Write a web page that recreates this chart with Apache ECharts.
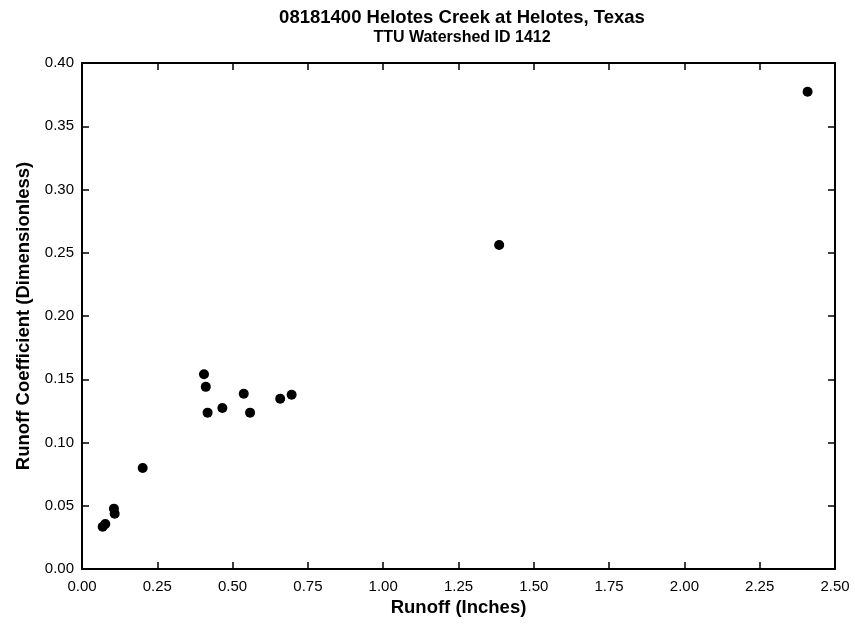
<!DOCTYPE html>
<html><head><meta charset="utf-8">
<script src="https://cdn.jsdelivr.net/npm/echarts@6/dist/echarts.min.js"></script>
<style>html,body{margin:0;padding:0;background:#fff}#c{width:855px;height:626px}</style>
</head><body><div id="c"></div>
<script>
const runoff = [2.409, 1.385, 0.405, 0.411, 0.417, 0.466, 0.537, 0.558, 0.658, 0.696, 0.2015, 0.106, 0.1085, 0.0686, 0.0774];
const coeff  = [0.3773, 0.2561, 0.154, 0.144, 0.1236, 0.1273, 0.1386, 0.1236, 0.1346, 0.1378, 0.0798, 0.0477, 0.0437, 0.0334, 0.0356];
const titleText = '08181400 Helotes Creek at Helotes, Texas';
const subText = 'TTU Watershed ID 1412';
const xName = 'Runoff (Inches)';
const yName = 'Runoff Coefficient (Dimensionless)';

const ff = '"Liberation Sans", Arial, Helvetica, sans-serif';
const chart = echarts.init(document.getElementById('c'));
const lineS = () => ({show: true, onZero: false, lineStyle: {color: '#000', width: 2}});
const tickS = () => ({show: true, inside: true, length: 7, lineStyle: {color: '#000', width: 1.5}});
chart.setOption({
  animation: false,
  title: {text: titleText, subtext: subText, left: 457, textAlign: 'center', top: 3, itemGap: 3,
    textStyle: {fontFamily: ff, fontWeight: 'bold', fontSize: 18.5, color: '#000'},
    subtextStyle: {fontFamily: ff, fontWeight: 'bold', fontSize: 16, color: '#000'}},
  grid: {left: 82, right: 20, top: 63, bottom: 57},
  xAxis: [
    {type: 'value', min: 0, max: 2.5, interval: 0.25, position: 'bottom',
     name: xName, nameLocation: 'middle', nameGap: 29,
     nameTextStyle: {fontFamily: ff, fontWeight: 'bold', fontSize: 18.5, color: '#000'},
     axisLine: lineS(), axisTick: tickS(), splitLine: {show: false},
     axisLabel: {fontFamily: ff, fontSize: 15, color: '#000', margin: 10, formatter: v => v.toFixed(2)}},
    {type: 'value', min: 0, max: 2.5, interval: 0.25, position: 'top',
     axisLine: lineS(), axisTick: tickS(), splitLine: {show: false}, axisLabel: {show: false}}
  ],
  yAxis: [
    {type: 'value', min: 0, max: 0.4, interval: 0.05, position: 'left',
     name: yName, nameLocation: 'middle', nameGap: 43,
     nameTextStyle: {fontFamily: ff, fontWeight: 'bold', fontSize: 18.5, color: '#000'},
     axisLine: lineS(), axisTick: tickS(), splitLine: {show: false},
     axisLabel: {fontFamily: ff, fontSize: 15, color: '#000', margin: 8, formatter: v => v.toFixed(2)}},
    {type: 'value', min: 0, max: 0.4, interval: 0.05, position: 'right',
     axisLine: lineS(), axisTick: tickS(), splitLine: {show: false}, axisLabel: {show: false}}
  ],
  series: [{type: 'scatter', symbol: 'circle', symbolSize: 10,
    itemStyle: {color: '#000', opacity: 1},
    data: runoff.map((x, i) => [x, coeff[i]])}]
});
</script></body></html>
